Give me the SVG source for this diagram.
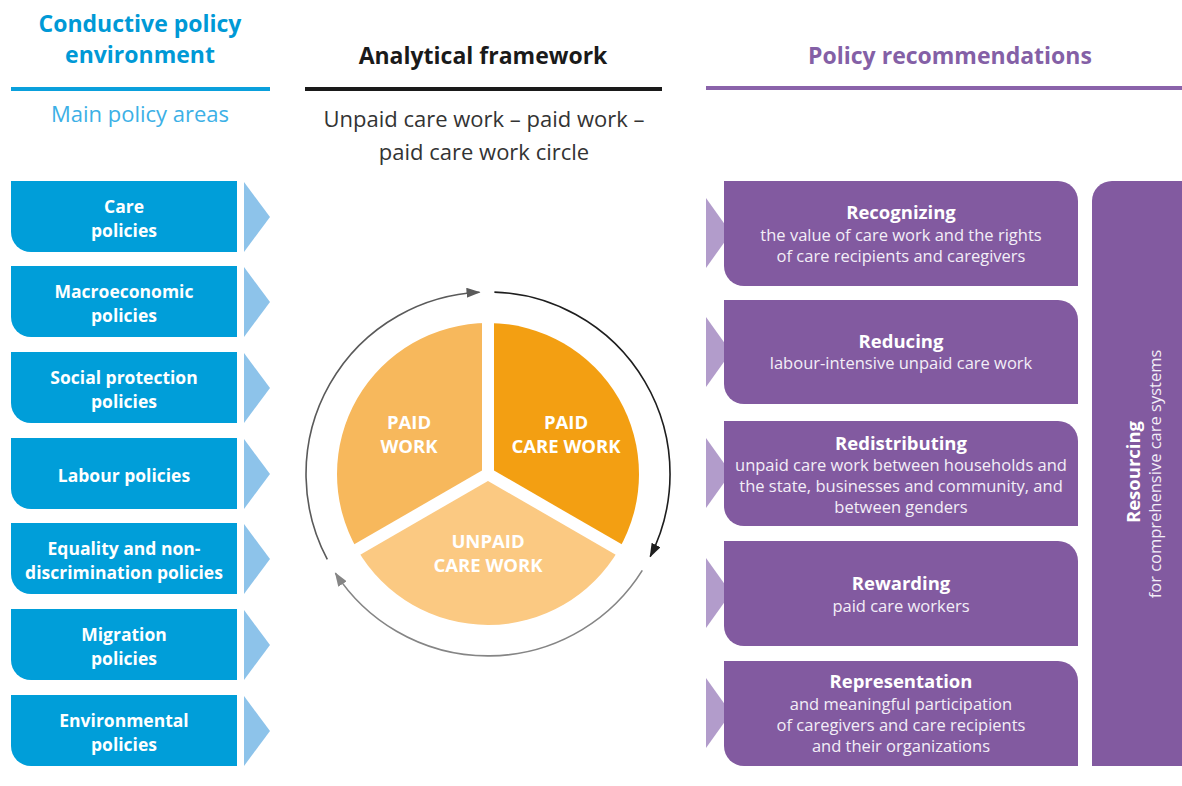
<svg xmlns="http://www.w3.org/2000/svg" width="1182" height="786" viewBox="0 0 1182 786">
<style>
text{font-family:"Open Sans","Noto Sans","Liberation Sans",sans-serif;}
.bbox{fill:#009ed9;}
.btri{fill:#8dc3ea;}
.blabel{fill:#ffffff;font-weight:bold;font-size:17.5px;text-anchor:middle;}
.pbox{fill:#825aa0;}
.ptri{fill:#b29ccb;}
.ptitle{fill:#ffffff;font-weight:bold;font-size:18.5px;text-anchor:middle;}
.pbody{fill:#f3eef7;font-size:16.5px;text-anchor:middle;}
.seg{font-weight:bold;font-size:18.5px;fill:#ffffff;text-anchor:middle;}
</style>
<defs>
<marker id="a1" markerWidth="14" markerHeight="10" refX="13" refY="5" orient="auto" markerUnits="userSpaceOnUse"><path d="M0,0 L14,5 L0,10 Z" fill="#5a5a5a"/></marker>
<marker id="a2" markerWidth="14" markerHeight="10" refX="13" refY="5" orient="auto" markerUnits="userSpaceOnUse"><path d="M0,0 L14,5 L0,10 Z" fill="#1e1e1e"/></marker>
<marker id="a3" markerWidth="14" markerHeight="10" refX="13" refY="5" orient="auto" markerUnits="userSpaceOnUse"><path d="M0,0 L14,5 L0,10 Z" fill="#858585"/></marker>
</defs>
<rect width="1182" height="786" fill="#ffffff"/>

<g id="header-left">
<text x="140" y="32" font-size="23" font-weight="bold" fill="#0099d6" text-anchor="middle">Conductive policy</text>
<text x="140" y="63" font-size="23" font-weight="bold" fill="#0099d6" text-anchor="middle">environment</text>
<rect x="11" y="87" width="259" height="4" fill="#0aa0dc"/>
<text x="140" y="122" font-size="22" fill="#3cb0e6" text-anchor="middle">Main policy areas</text>
</g>
<g id="header-center">
<text x="483" y="64" font-size="23" font-weight="bold" fill="#1a1a1a" text-anchor="middle">Analytical framework</text>
<rect x="305" y="87" width="357" height="4" fill="#1a1a1a"/>
<text x="484" y="127" font-size="22" fill="#333333" text-anchor="middle">Unpaid care work – paid work –</text>
<text x="484" y="160" font-size="22" fill="#333333" text-anchor="middle">paid care work circle</text>
</g>
<g id="header-right">
<text x="950" y="64" font-size="23" font-weight="bold" fill="#8460a6" text-anchor="middle">Policy recommendations</text>
<rect x="706" y="86" width="476" height="4" fill="#8a63aa"/>
</g>

<g id="care-policies">
<path class="bbox" d="M11,181 H237 V252 H31 A20,20 0 0 1 11,232 Z"/>
<path class="btri" d="M244,182 L270,217 L244,252 Z"/>
<text class="blabel" x="124" y="213">Care</text>
<text class="blabel" x="124" y="237">policies</text>
</g>
<g id="macro-policies">
<path class="bbox" d="M11,266 H237 V337 H31 A20,20 0 0 1 11,317 Z"/>
<path class="btri" d="M244,267 L270,302 L244,337 Z"/>
<text class="blabel" x="124" y="298">Macroeconomic</text>
<text class="blabel" x="124" y="322">policies</text>
</g>
<g id="social-policies">
<path class="bbox" d="M11,352 H237 V423 H31 A20,20 0 0 1 11,403 Z"/>
<path class="btri" d="M244,353 L270,388 L244,423 Z"/>
<text class="blabel" x="124" y="384">Social protection</text>
<text class="blabel" x="124" y="408">policies</text>
</g>
<g id="labour-policies">
<path class="bbox" d="M11,438 H237 V509 H31 A20,20 0 0 1 11,489 Z"/>
<path class="btri" d="M244,439 L270,474 L244,509 Z"/>
<text class="blabel" x="124" y="482">Labour policies</text>
</g>
<g id="equality-policies">
<path class="bbox" d="M11,523 H237 V594 H31 A20,20 0 0 1 11,574 Z"/>
<path class="btri" d="M244,524 L270,559 L244,594 Z"/>
<text class="blabel" x="124" y="555">Equality and non-</text>
<text class="blabel" x="124" y="579">discrimination policies</text>
</g>
<g id="migration-policies">
<path class="bbox" d="M11,609 H237 V680 H31 A20,20 0 0 1 11,660 Z"/>
<path class="btri" d="M244,610 L270,645 L244,680 Z"/>
<text class="blabel" x="124" y="641">Migration</text>
<text class="blabel" x="124" y="665">policies</text>
</g>
<g id="environmental-policies">
<path class="bbox" d="M11,695 H237 V766 H31 A20,20 0 0 1 11,746 Z"/>
<path class="btri" d="M244,696 L270,731 L244,766 Z"/>
<text class="blabel" x="124" y="727">Environmental</text>
<text class="blabel" x="124" y="751">policies</text>
</g>

<g id="circle">
<path d="M488,474 L357.23,549.5 A151,151 0 0 1 488,323 Z" fill="#f7b85c"/>
<path d="M488,474 L488,323 A151,151 0 0 1 618.77,549.5 Z" fill="#f39f12"/>
<path d="M488,474 L618.77,549.5 A151,151 0 0 1 357.23,549.5 Z" fill="#fbc982"/>
<g stroke="#ffffff" stroke-width="12">
<line x1="488" y1="474" x2="488" y2="310"/>
<line x1="488" y1="474" x2="630" y2="556"/>
<line x1="488" y1="474" x2="346" y2="556"/>
</g>
<text class="seg" x="409" y="429">PAID</text>
<text class="seg" x="409" y="453">WORK</text>
<text class="seg" x="566" y="429">PAID</text>
<text class="seg" x="566" y="453">CARE WORK</text>
<text class="seg" x="488" y="548">UNPAID</text>
<text class="seg" x="488" y="572">CARE WORK</text>
</g>

<g id="connectors" fill="none" stroke-width="1.6">
<path d="M327.3,559.4 A182,182 0 0 1 479.5,292.2" stroke="#5a5a5a" marker-end="url(#a1)"/>
<path d="M494.4,292.1 A182,182 0 0 1 650.2,556.6" stroke="#1e1e1e" marker-end="url(#a2)"/>
<path d="M642.3,570.4 A182,182 0 0 1 335.4,573.1" stroke="#858585" marker-end="url(#a3)"/>
</g>

<g id="recognizing">
<path class="ptri" d="M706,198 L731,233 L706,268 Z"/>
<path class="pbox" d="M724,181 H1058 A20,20 0 0 1 1078,201 V286 H744 A20,20 0 0 1 724,266 Z"/>
<text class="ptitle" x="901" y="219">Recognizing</text>
<text class="pbody" x="901" y="241">the value of care work and the rights</text>
<text class="pbody" x="901" y="262">of care recipients and caregivers</text>
</g>
<g id="reducing">
<path class="ptri" d="M706,317 L731,352 L706,387 Z"/>
<path class="pbox" d="M724,300 H1058 A20,20 0 0 1 1078,320 V404 H744 A20,20 0 0 1 724,384 Z"/>
<text class="ptitle" x="901" y="348">Reducing</text>
<text class="pbody" x="901" y="369">labour-intensive unpaid care work</text>
</g>
<g id="redistributing">
<path class="ptri" d="M706,438 L731,473 L706,508 Z"/>
<path class="pbox" d="M724,421 H1058 A20,20 0 0 1 1078,441 V526 H744 A20,20 0 0 1 724,506 Z"/>
<text class="ptitle" x="901" y="450">Redistributing</text>
<text class="pbody" x="901" y="471">unpaid care work between households and</text>
<text class="pbody" x="901" y="492">the state, businesses and community, and</text>
<text class="pbody" x="901" y="513">between genders</text>
</g>
<g id="rewarding">
<path class="ptri" d="M706,558 L731,593 L706,628 Z"/>
<path class="pbox" d="M724,541 H1058 A20,20 0 0 1 1078,561 V646 H744 A20,20 0 0 1 724,626 Z"/>
<text class="ptitle" x="901" y="590">Rewarding</text>
<text class="pbody" x="901" y="612">paid care workers</text>
</g>
<g id="representation">
<path class="ptri" d="M706,678 L731,713 L706,748 Z"/>
<path class="pbox" d="M724,661 H1058 A20,20 0 0 1 1078,681 V766 H744 A20,20 0 0 1 724,746 Z"/>
<text class="ptitle" x="901" y="688">Representation</text>
<text class="pbody" x="901" y="710">and meaningful participation</text>
<text class="pbody" x="901" y="731">of caregivers and care recipients</text>
<text class="pbody" x="901" y="752">and their organizations</text>
</g>
<g id="resourcing">
<path class="pbox" d="M1112,181 H1190 V766 H1092 V201 A20,20 0 0 1 1112,181 Z"/>
<text class="ptitle" transform="translate(1140,472) rotate(-90)">Resourcing</text>
<text class="pbody" transform="translate(1161,474) rotate(-90)">for comprehensive care systems</text>
</g>
</svg>
